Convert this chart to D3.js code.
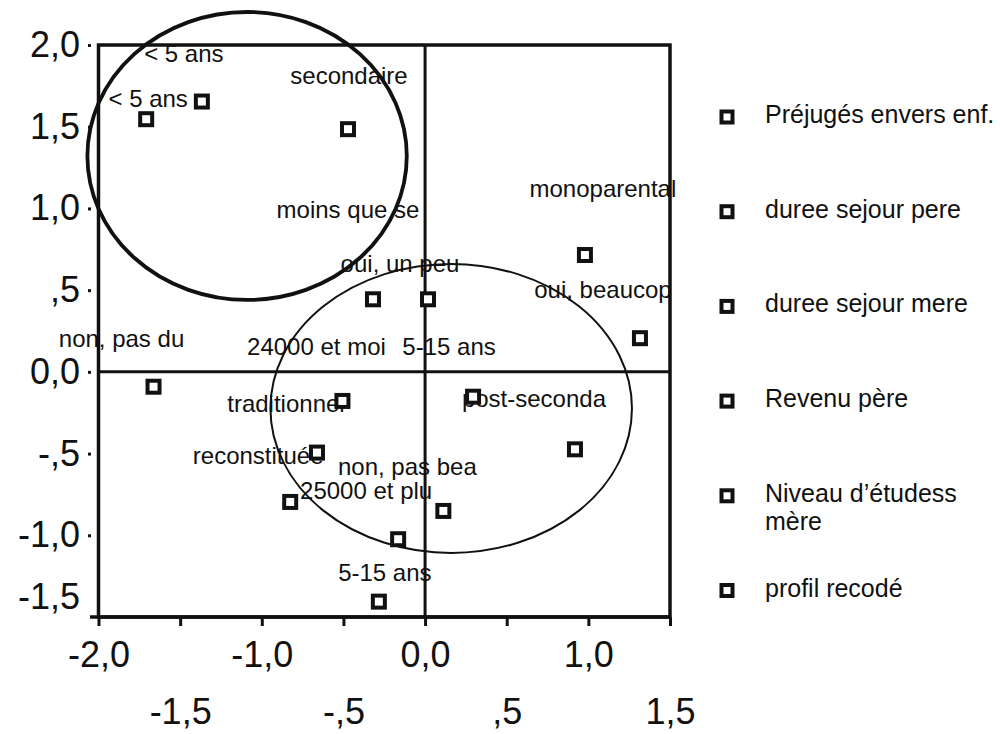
<!DOCTYPE html>
<html>
<head>
<meta charset="utf-8">
<script src="https://cdn.jsdelivr.net/npm/d3@7"></script>
<style>
  html, body { margin: 0; padding: 0; background: #fff; }
  svg { display: block; }
  text { font-family: "Liberation Sans", Arial, sans-serif; fill: #111; }
</style>
</head>
<body>
<svg id="chart" width="1000" height="734"></svg>
<script>
// ---------- data ----------
const seriesNames = ["Préjugés envers enf.", "duree sejour pere", "duree sejour mere", "Revenu père", "Niveau d’étudess\nmère", "profil recodé"];
const pointLabels = ["< 5 ans", "< 5 ans", "secondaire", "moins que se", "oui, un peu", "monoparental", "oui, beaucop", "non, pas du", "24000 et moi", "5-15 ans", "traditionnel", "post-seconda", "reconstituée", "non, pas bea", "25000 et plu", "5-15 ans"];
const pointSeries = [1, 2, 4, 4, 0, 5, 0, 0, 3, 1, 5, 4, 5, 0, 3, 2];
const xValues = [-1.367, -1.708, -0.472, -0.319, 0.018, 0.979, 1.316, -1.663, -0.506, 0.294, -0.662, 0.918, -0.826, 0.112, -0.165, -0.283];
const yValues = [1.654, 1.546, 1.485, 0.444, 0.444, 0.715, 0.206, -0.091, -0.178, -0.152, -0.494, -0.474, -0.796, -0.851, -1.024, -1.406];
// label offsets (pixels) relative to each point
const labelDx = [-18, 2, 1, -25, -28, 18, -37, -32, -26, -24, -31, -41, -32, -36, -32, 6];
const labelDy = [-40, -12, -45, -81, -27, -58, -40, -40, -46, -42, -41, -42, -38, -36, -40, -21];
const xTicks = [-2, -1.5, -1, -0.5, 0, 0.5, 1, 1.5];
const xTickLabels = ["-2,0", "-1,5", "-1,0", "-,5", "0,0", ",5", "1,0", "1,5"];
const yTicks = [2, 1.5, 1, 0.5, 0, -0.5, -1, -1.5];
const yTickLabels = ["2,0", "1,5", "1,0", ",5", "0,0", "-,5", "-1,0", "-1,5"];
// group ellipses (data units): cx, cy, rx, ry
const ellipseCx = [-1.09, 0.16];
const ellipseCy = [1.321, -0.224];
const ellipseRx = [0.978, 1.107];
const ellipseRy = [0.881, 0.884];

// ---------- layout ----------
const svg = d3.select("#chart");
const x = d3.scaleLinear().domain([-2, 1.5]).range([98.5, 670]);
const y = d3.scaleLinear().domain([-1.5, 2]).range([617, 45]);
const [x0, x1] = x.range();
const [yb, yt] = y.range();

const points = xValues.map((v, i) => ({
  x: v, y: yValues[i], label: pointLabels[i], s: pointSeries[i], dx: labelDx[i], dy: labelDy[i]
}));

// point labels (under the lines and squares)
svg.append("g").selectAll("text").data(points).join("text")
  .attr("x", d => x(d.x) + d.dx)
  .attr("y", d => y(d.y) + d.dy)
  .attr("text-anchor", "middle")
  .attr("font-size", 24)
  .text(d => d.label);

// frame
svg.append("rect")
  .attr("x", x0).attr("y", yt)
  .attr("width", x1 - x0).attr("height", yb - yt)
  .attr("fill", "none").attr("stroke", "#111").attr("stroke-width", 3.5);
svg.append("line").attr("x1", 90).attr("x2", x1).attr("y1", yb).attr("y2", yb)
  .attr("stroke", "#111").attr("stroke-width", 3.5);

// zero lines
svg.append("line").attr("x1", x(0)).attr("x2", x(0)).attr("y1", yt).attr("y2", yb)
  .attr("stroke", "#111").attr("stroke-width", 3);
svg.append("line").attr("x1", x0).attr("x2", x1).attr("y1", y(0)).attr("y2", y(0))
  .attr("stroke", "#111").attr("stroke-width", 3);

// ellipses
svg.append("g").selectAll("ellipse").data(ellipseCx).join("ellipse")
  .attr("cx", d => x(d))
  .attr("cy", (d, i) => y(ellipseCy[i]))
  .attr("rx", (d, i) => x(ellipseRx[i]) - x(0))
  .attr("ry", (d, i) => y(0) - y(ellipseRy[i]))
  .attr("fill", "none").attr("stroke", "#111")
  .attr("stroke-width", (d, i) => i === 0 ? 3.8 : 2);

// markers
const ms = 12;
svg.append("g").selectAll("rect").data(points).join("rect")
  .attr("x", d => x(d.x) - ms / 2)
  .attr("y", d => y(d.y) - ms / 2)
  .attr("width", ms).attr("height", ms)
  .attr("fill", "#fff").attr("stroke", "#111").attr("stroke-width", 4);

// y axis
const yAxis = svg.append("g").attr("transform", "translate(91,0)")
  .call(d3.axisLeft(y).tickValues(yTicks).tickSize(3).tickPadding(8)
    .tickFormat((d, i) => yTickLabels[i]));
yAxis.select(".domain").remove();
yAxis.selectAll(".tick line").attr("stroke", "#111").attr("stroke-width", 3);
yAxis.selectAll(".tick text").attr("font-size", 36).attr("fill", "#111")
  .style("font-family", "'Liberation Sans', Arial, sans-serif");
yAxis.selectAll(".tick").filter(d => d === -1.5).select("text").attr("y", -20);
yAxis.selectAll(".tick").filter(d => d === -1.5).select("line").remove();

// x axis
const xAxis = svg.append("g").attr("transform", `translate(0,${yb})`)
  .call(d3.axisBottom(x).tickValues(xTicks).tickSize(9).tickPadding(15)
    .tickFormat((d, i) => xTickLabels[i]));
xAxis.select(".domain").remove();
xAxis.selectAll(".tick line").attr("stroke", "#111").attr("stroke-width", 3);
xAxis.selectAll(".tick text").attr("font-size", 36).attr("fill", "#111")
  .style("font-family", "'Liberation Sans', Arial, sans-serif");
xAxis.selectAll(".tick").filter(d => !Number.isInteger(d)).select("text").attr("y", 81);

// legend
const ly = d3.scaleLinear().domain([0, seriesNames.length - 1]).range([117, 590.5]);
const legend = svg.append("g").selectAll("g").data(seriesNames).join("g")
  .attr("transform", (d, i) => `translate(0,${ly(i)})`);
legend.append("rect")
  .attr("x", 727 - 5.5).attr("y", -5.5).attr("width", 11).attr("height", 11)
  .attr("fill", "#fff").attr("stroke", "#111").attr("stroke-width", 4);
legend.append("text")
  .attr("x", 765).attr("y", 6)
  .attr("font-size", 25)
  .selectAll("tspan").data(d => d.split("\n")).join("tspan")
  .attr("x", 765).attr("dy", (d, i) => i === 0 ? 0 : 28)
  .text(d => d);
</script>
</body>
</html>
